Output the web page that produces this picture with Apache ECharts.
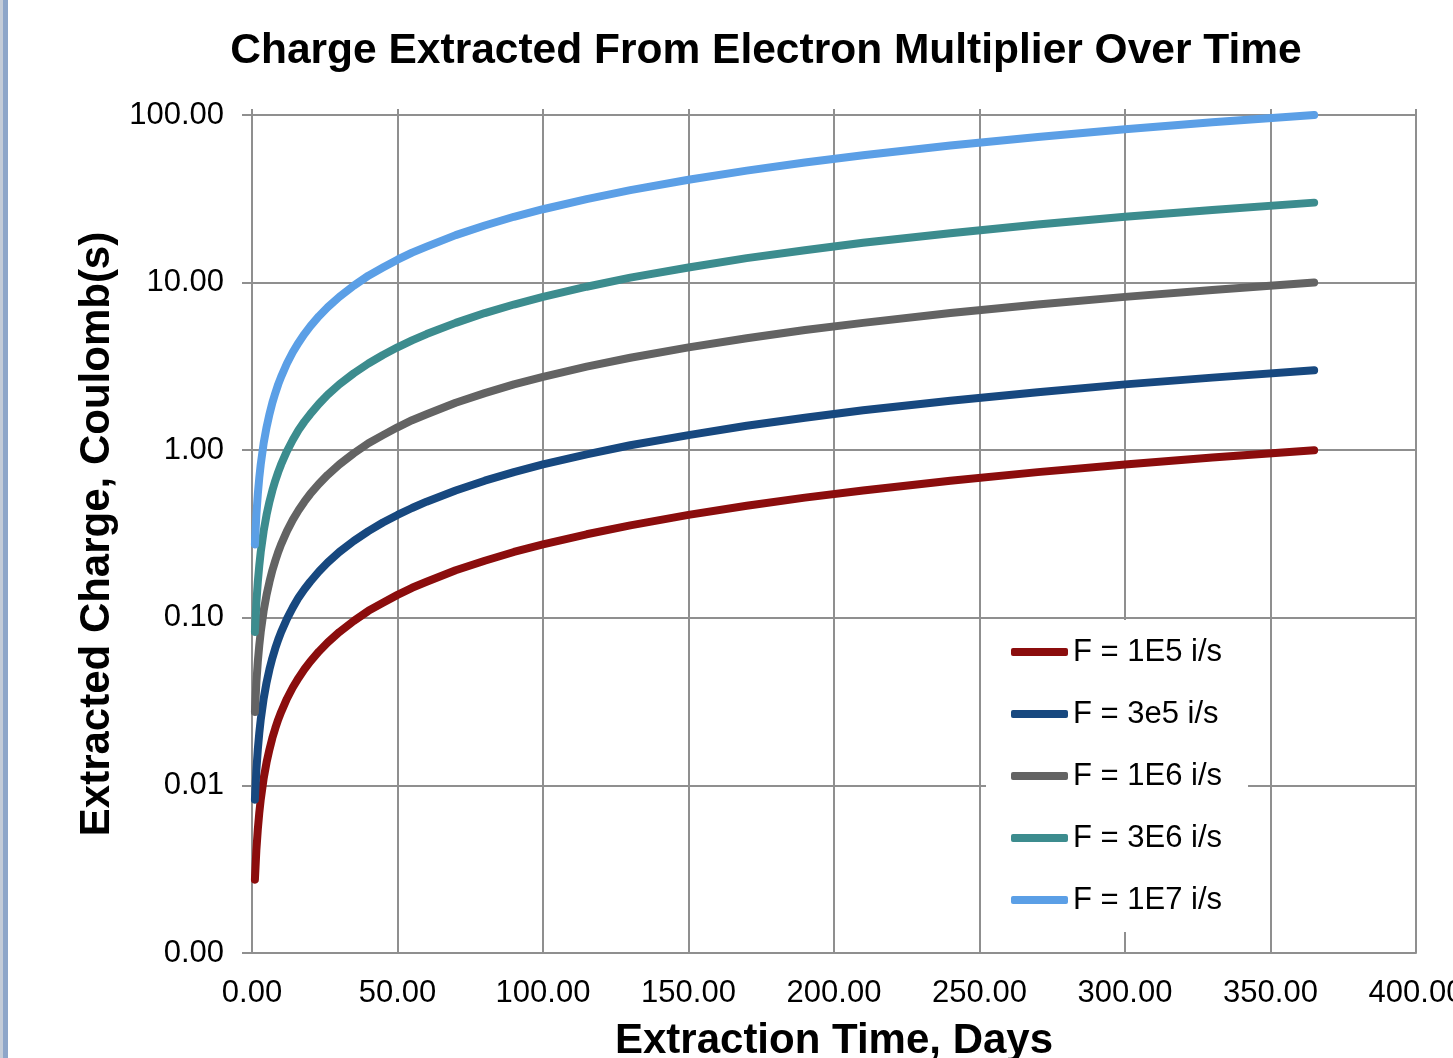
<!DOCTYPE html>
<html>
<head>
<meta charset="utf-8">
<script src="https://cdn.jsdelivr.net/npm/echarts@6/dist/echarts.min.js"></script>
<style>
html,body{margin:0;padding:0;background:#fff;}
#chart{width:1453px;height:1058px;}
</style>
</head>
<body>
<div id="chart"></div>
<script>
// Extraction time, days
const days = [1, 1.5, 2, 2.5, 3, 4, 5, 6, 7, 8, 9, 10, 12, 14, 16, 18, 20, 23, 26, 30, 35, 40, 45, 50, 55, 60, 70, 80, 90, 100, 115, 130, 150, 170, 190, 210, 240, 270, 300, 330, 365];
// Extracted charge, Coulomb(s)
const f1e5 = [0.00274, 0.00411, 0.00548, 0.00685, 0.00822, 0.0110, 0.0137, 0.0164, 0.0192, 0.0219, 0.0247, 0.0274, 0.0329, 0.0384, 0.0438, 0.0493, 0.0548, 0.0630, 0.0712, 0.0822, 0.0959, 0.110, 0.123, 0.137, 0.151, 0.164, 0.192, 0.219, 0.247, 0.274, 0.315, 0.356, 0.411, 0.466, 0.521, 0.575, 0.658, 0.740, 0.822, 0.904, 1.00];
const f3e5 = [0.00822, 0.0123, 0.0164, 0.0205, 0.0247, 0.0329, 0.0411, 0.0493, 0.0575, 0.0658, 0.0740, 0.0822, 0.0986, 0.115, 0.132, 0.148, 0.164, 0.189, 0.214, 0.247, 0.288, 0.329, 0.370, 0.411, 0.452, 0.493, 0.575, 0.658, 0.740, 0.822, 0.945, 1.07, 1.23, 1.40, 1.56, 1.73, 1.97, 2.22, 2.47, 2.71, 3.00];
const f1e6 = [0.0274, 0.0411, 0.0548, 0.0685, 0.0822, 0.110, 0.137, 0.164, 0.192, 0.219, 0.247, 0.274, 0.329, 0.384, 0.438, 0.493, 0.548, 0.630, 0.712, 0.822, 0.959, 1.10, 1.23, 1.37, 1.51, 1.64, 1.92, 2.19, 2.47, 2.74, 3.15, 3.56, 4.11, 4.66, 5.21, 5.75, 6.58, 7.40, 8.22, 9.04, 10.0];
const f3e6 = [0.0822, 0.123, 0.164, 0.205, 0.247, 0.329, 0.411, 0.493, 0.575, 0.658, 0.740, 0.822, 0.986, 1.15, 1.32, 1.48, 1.64, 1.89, 2.14, 2.47, 2.88, 3.29, 3.70, 4.11, 4.52, 4.93, 5.75, 6.58, 7.40, 8.22, 9.45, 10.7, 12.3, 14.0, 15.6, 17.3, 19.7, 22.2, 24.7, 27.1, 30.0];
const f1e7 = [0.274, 0.411, 0.548, 0.685, 0.822, 1.10, 1.37, 1.64, 1.92, 2.19, 2.47, 2.74, 3.29, 3.84, 4.38, 4.93, 5.48, 6.30, 7.12, 8.22, 9.59, 11.0, 12.3, 13.7, 15.1, 16.4, 19.2, 21.9, 24.7, 27.4, 31.5, 35.6, 41.1, 46.6, 52.1, 57.5, 65.8, 74.0, 82.2, 90.4, 100];
const seriesNames = ['F = 1E5 i/s', 'F = 3e5 i/s', 'F = 1E6 i/s', 'F = 3E6 i/s', 'F = 1E7 i/s'];
const seriesValues = [f1e5, f3e5, f1e6, f3e6, f1e7];
const seriesColors = ['#8b0d0d', '#17487f', '#636363', '#3c8c8e', '#5b9fe6'];

const FONT = '"Liberation Sans", Arial, sans-serif';
const GRID = '#8f8f8f';

const chart = echarts.init(document.getElementById('chart'), null, {renderer: 'canvas'});

const series = seriesNames.map((n, i) => ({
  name: n,
  type: 'line',
  data: days.map((d, j) => [d, seriesValues[i][j]]),
  showSymbol: false,
  symbol: 'none',
  color: seriesColors[i],
  lineStyle: {width: 8, color: seriesColors[i], cap: 'round', join: 'round'},
  emphasis: {disabled: true},
  animation: false,
  z: 3
}));

const fmt = v => Number(v).toFixed(2);

chart.setOption({
  animation: false,
  backgroundColor: '#fff',
  grid: {left: 252, right: 37, top: 115, bottom: 105, containLabel: false, outerBoundsMode: 'none'},
  graphic: [
    {type: 'rect', shape: {x: 0, y: 0, width: 3, height: 1058}, style: {fill: '#c4ccd8'}, silent: true},
    {type: 'rect', shape: {x: 3, y: 0, width: 5, height: 1058}, style: {fill: '#8ea6c9'}, silent: true},
    {type: 'text', x: 766, y: 51, style: {text: 'Charge Extracted From Electron Multiplier Over Time', font: 'bold 42.5px ' + FONT, fill: '#000', textAlign: 'center', textVerticalAlign: 'middle'}, silent: true}
  ],
  legend: {
    orient: 'vertical',
    left: 986,
    top: 620,
    backgroundColor: '#fff',
    padding: [15, 26, 15, 25],
    itemGap: 28,
    itemWidth: 57,
    itemHeight: 8,
    icon: 'roundRect',
    textStyle: {fontFamily: FONT, fontSize: 31, color: '#000', lineHeight: 34},
    data: seriesNames,
    z: 10
  },
  xAxis: [{
    type: 'value',
    min: 0, max: 400, interval: 50,
    name: 'Extraction Time, Days',
    nameLocation: 'middle',
    nameGap: 67,
    nameTextStyle: {fontFamily: FONT, fontSize: 42, fontWeight: 'bold', color: '#000'},
    axisLine: {show: true, onZero: false, lineStyle: {color: GRID, width: 2}},
    axisTick: {show: false},
    axisLabel: {formatter: fmt, fontFamily: FONT, fontSize: 31, color: '#000', margin: 25, showMaxLabel: true, showMinLabel: true},
    splitLine: {show: true, lineStyle: {color: GRID, width: 2}}
  }, {
    type: 'value',
    position: 'top',
    min: 0, max: 400, interval: 50,
    axisLine: {show: false},
    axisTick: {show: true, length: 6, lineStyle: {color: GRID, width: 2}},
    axisLabel: {show: false},
    splitLine: {show: false}
  }],
  yAxis: {
    type: 'log',
    logBase: 10,
    min: 0.001, max: 100,
    name: 'Extracted Charge, Coulomb(s)',
    nameLocation: 'middle',
    nameRotate: 90,
    nameGap: 134,
    nameTextStyle: {fontFamily: FONT, fontSize: 42, fontWeight: 'bold', color: '#000'},
    axisLine: {show: true, lineStyle: {color: GRID, width: 2}},
    axisTick: {show: true, length: 10, lineStyle: {color: GRID, width: 2}},
    axisLabel: {formatter: fmt, fontFamily: FONT, fontSize: 31, color: '#000', margin: 28},
    splitLine: {show: true, lineStyle: {color: GRID, width: 2}},
    minorTick: {show: false}
  },
  series: series
});
</script>
</body>
</html>
